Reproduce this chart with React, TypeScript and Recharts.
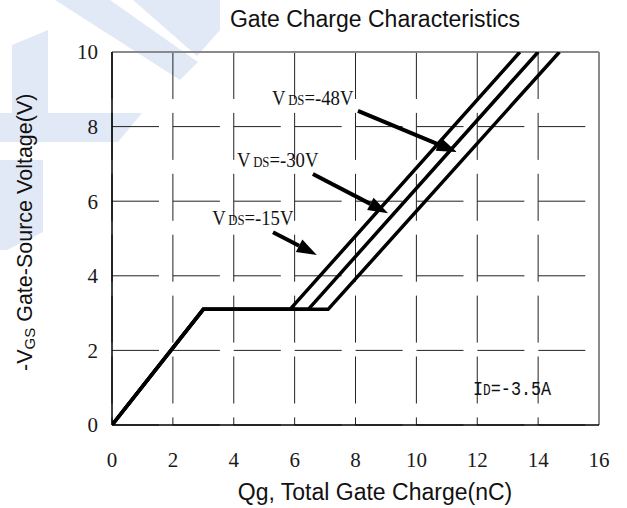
import React from "react";
import {
  LineChart,
  Line,
  XAxis,
  YAxis,
  CartesianGrid,
  ReferenceLine,
  ReferenceDot,
} from "recharts";

// gate charge curves
const Q_TICKS = [0, 2, 4, 6, 8, 10, 12, 14, 16];
const V_TICKS = [0, 2, 4, 6, 8, 10];
const VGS = [0, 3.1, 3.1, 10];
const QG_15V = [0, 3.0, 5.85, 13.4];
const QG_30V = [0, 3.0, 6.45, 14.0];
const QG_48V = [0, 3.0, 7.1, 14.7];

// annotation anchors in data units (q, v)
const VDS_LABELS = [
  { text: "=-48V", q: 5.26, v: 8.58 },
  { text: "=-30V", q: 4.11, v: 6.92 },
  { text: "=-15V", q: 3.29, v: 5.36 },
];
const ARROWS = [
  { q1: 8.08, v1: 8.42, q2: 11.33, v2: 7.32 },
  { q1: 6.6, v1: 6.73, q2: 9.07, v2: 5.68 },
  { q1: 5.29, v1: 5.17, q2: 6.73, v2: 4.56 },
];
const ID_LABEL = { q: 11.86, v: 0.8 };

const toRows = (qs: number[]) => qs.map((q, i) => ({ q, v: VGS[i] }));

const serif = "'Liberation Serif', 'Times New Roman', serif";
const sans = "'Liberation Sans', Arial, sans-serif";

function ArrowShape(props: any) {
  const { x1, y1, x2, y2 } = props;
  const a = Math.atan2(y2 - y1, x2 - x1);
  const len = 20;
  const half = 7;
  const bx = x2 - len * Math.cos(a);
  const by = y2 - len * Math.sin(a);
  const px = -Math.sin(a) * half;
  const py = Math.cos(a) * half;
  return (
    <g>
      <line x1={x1} y1={y1} x2={bx} y2={by} stroke="#000" strokeWidth={4} />
      <polygon
        points={`${x2},${y2} ${bx + px},${by + py} ${bx - px},${by - py}`}
        fill="#000"
      />
    </g>
  );
}

const vdsShape = (text: string) => (p: any) => (
  <text
    transform={`translate(${p.cx} ${p.cy}) scale(0.85 1)`}
    x={0}
    y={0}
    fontFamily={serif}
    fontSize={22}
    fill="#111"
  >
    V<tspan fontSize={15} dx={3}>DS</tspan>
    <tspan fontSize={22}>{text}</tspan>
  </text>
);

const idShape = (p: any) => (
  <text
    transform={`translate(${p.cx} ${p.cy}) scale(0.8 1)`}
    x={0}
    y={0}
    fontFamily="'Liberation Mono', monospace"
    fontSize={21}
    fill="#111"
  >
    I<tspan fontSize={16}>D</tspan>
    <tspan fontSize={21}>=-3.5A</tspan>
  </text>
);

const tickStyle = { fill: "#1a1a1a", fontSize: 21, fontFamily: serif };

export default function App() {
  return (
    <div
      style={{
        position: "absolute",
        left: 0,
        top: 0,
        width: 627,
        height: 508,
        background: "#fff",
      }}
    >
      <svg
        width={627}
        height={508}
        style={{ position: "absolute", left: 0, top: 0 }}
      >
        {/* faint watermark */}
        <g fill="#e2e9f6">
          <polygon points="55,0 110,0 198,62 180,80" />
          <polygon points="133,0 220,0 220,30 197,56" />
          <polygon points="12,45 48,30 48,113 12,113" />
          <polygon points="0,113 142,113 118,142 0,142" />
          <polygon points="0,160 43,160 43,232 7,250 0,250" />
        </g>
        <text
          x={375}
          y={27}
          textAnchor="middle"
          fontFamily={sans}
          fontSize={23}
          fill="#111"
        >
          Gate Charge Characteristics
        </text>
        <text
          x={375}
          y={500}
          textAnchor="middle"
          fontFamily={sans}
          fontSize={23}
          fill="#111"
        >
          Qg, Total Gate Charge(nC)
        </text>
        <text
          transform="translate(32 371) rotate(-90)"
          textAnchor="start"
          fontFamily={sans}
          fontSize={21.5}
          fill="#111"
        >
          -V<tspan fontSize={15} dy={3}>GS</tspan>
          <tspan dy={-3}> Gate-Source Voltage(V)</tspan>
        </text>
      </svg>
      <LineChart
        width={627}
        height={508}
        margin={{ top: 52, right: 28, left: 0, bottom: 0 }}
        style={{ position: "absolute", left: 0, top: 0 }}
      >
        <CartesianGrid
          horizontal={false}
          stroke="#222"
          strokeDasharray="47 13.9"
        />
        <CartesianGrid
          vertical={false}
          stroke="#222"
          strokeDasharray="47 13.9"
        />
        <XAxis
          type="number"
          dataKey="q"
          domain={[0, 16]}
          ticks={Q_TICKS}
          allowDataOverflow
          height={83}
          tickLine={false}
          tickSize={6}
          tickMargin={21}
          axisLine={{ stroke: "#000", strokeWidth: 1.5 }}
          tick={tickStyle}
        />
        <YAxis
          type="number"
          dataKey="v"
          domain={[0, 10]}
          ticks={V_TICKS}
          allowDataOverflow
          width={112}
          tickLine={false}
          tickSize={6}
          tickMargin={8}
          axisLine={{ stroke: "#000", strokeWidth: 1.5 }}
          tick={tickStyle}
        />
        <ReferenceLine y={10} stroke="#8a8a8a" strokeWidth={2} />
        <ReferenceLine x={16} stroke="#8a8a8a" strokeWidth={2} />
        <Line
          data={toRows(QG_15V)}
          dataKey="v"
          stroke="#000"
          strokeWidth={3.5}
          dot={false}
          type="linear"
          isAnimationActive={false}
        />
        <Line
          data={toRows(QG_30V)}
          dataKey="v"
          stroke="#000"
          strokeWidth={3.5}
          dot={false}
          type="linear"
          isAnimationActive={false}
        />
        <Line
          data={toRows(QG_48V)}
          dataKey="v"
          stroke="#000"
          strokeWidth={3.5}
          dot={false}
          type="linear"
          isAnimationActive={false}
        />
        {ARROWS.map((a, i) => (
          <ReferenceLine
            key={`arrow-${i}`}
            segment={[
              { x: a.q1, y: a.v1 },
              { x: a.q2, y: a.v2 },
            ]}
            shape={ArrowShape}
          />
        ))}
        {VDS_LABELS.map((l, i) => (
          <ReferenceDot
            key={`vds-${i}`}
            x={l.q}
            y={l.v}
            r={0}
            shape={vdsShape(l.text)}
          />
        ))}
        <ReferenceDot x={ID_LABEL.q} y={ID_LABEL.v} r={0} shape={idShape} />
      </LineChart>
    </div>
  );
}
